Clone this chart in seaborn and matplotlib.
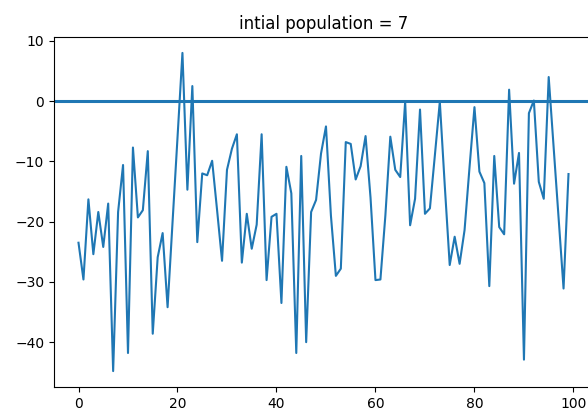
import numpy as np
import pandas as pd
import matplotlib
matplotlib.use("Agg")
import matplotlib.pyplot as plt
import seaborn as sns

# values
generation = list(range(100))
difference = [
    -23.5, -29.6, -16.3, -25.4, -18.4, -24.2, -17.0, -44.8, -18.4, -10.6,
    -41.8, -7.7, -19.3, -18.1, -8.3, -38.6, -25.9, -21.9, -34.2, -20.1,
    -6.1, 8.0, -14.7, 2.5, -23.4, -12.0, -12.3, -9.9, -18.1, -26.5,
    -11.4, -7.9, -5.5, -26.8, -18.7, -24.5, -20.5, -5.5, -29.7, -19.2,
    -18.7, -33.5, -10.9, -15.3, -41.8, -9.1, -40.0, -18.4, -16.4, -8.7,
    -4.2, -19.0, -29.0, -27.8, -6.8, -7.1, -13.0, -10.8, -5.8, -16.0,
    -29.7, -29.6, -19.0, -5.9, -11.4, -12.6, -0.1, -20.6, -16.2, -1.4,
    -18.7, -17.8, -9.0, -0.1, -14.0, -27.2, -22.5, -27.0, -21.4, -11.0,
    -1.0, -11.7, -13.6, -30.7, -9.1, -20.9, -22.1, 1.9, -13.7, -8.6,
    -42.9, -2.0, 0.1, -13.4, -16.2, 4.0, -7.7, -19.4, -31.1, -12.1,
]
baseline = 0
init_pop = 7

df = pd.DataFrame({"gen": generation, "diff": difference})

fig = plt.figure(figsize=(5.88, 4.16), dpi=100)
# the original figure was cut on the right, so the axes run past the edge
ax = fig.add_axes([54 / 588, 29 / 416, 539 / 588, 350 / 416])

sns.lineplot(data=df, x="gen", y="diff", ax=ax, color="C0", linewidth=1.5)
ax.axhline(baseline, color="C0", linewidth=2.2)

ax.set_title(f"intial population = {init_pop}", fontsize=12)
ax.set_xlabel("")
ax.set_ylabel("")
ax.set_xticks([0, 20, 40, 60, 80, 100])
ax.set_yticks([10, 0, -10, -20, -30, -40])
ax.tick_params(labelsize=10)

fig.savefig("out.png", dpi=100)
